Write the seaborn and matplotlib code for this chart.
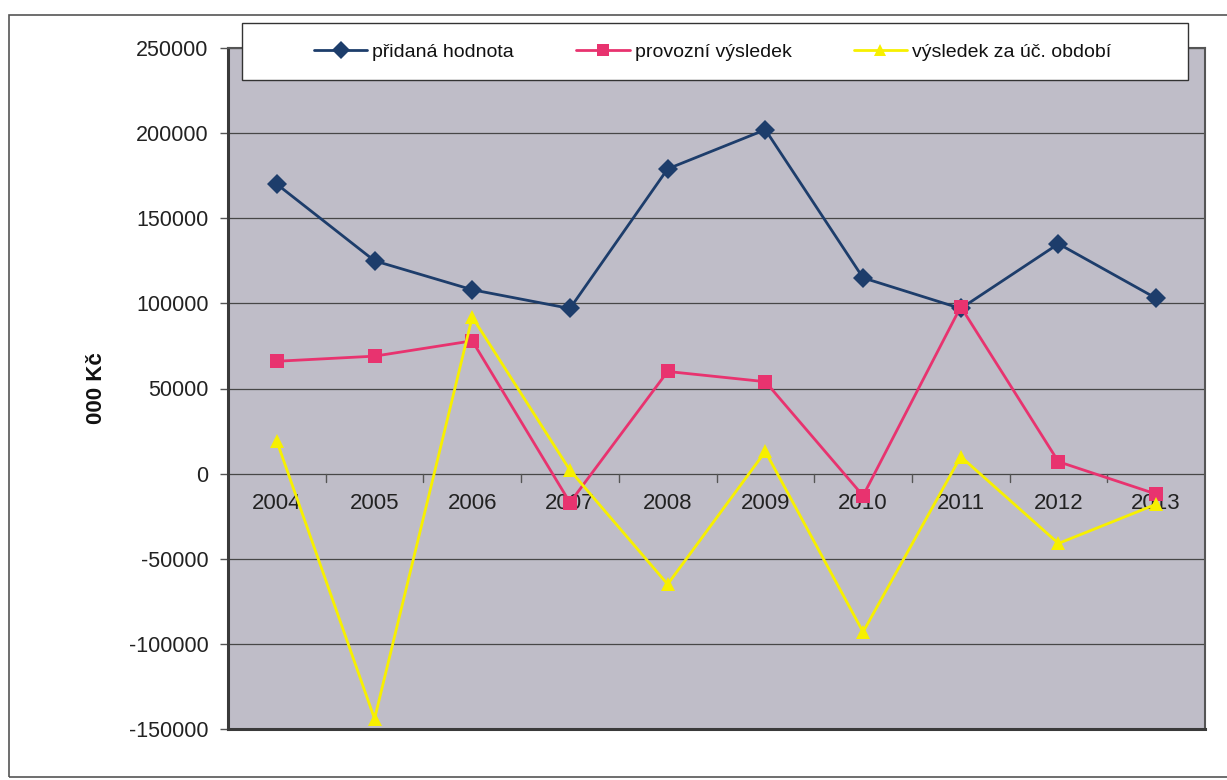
import matplotlib
matplotlib.use("Agg")
import matplotlib.pyplot as plt
from matplotlib.patches import Rectangle
from matplotlib.lines import Line2D
import seaborn as sns
import pandas as pd

years = ["2004", "2005", "2006", "2007", "2008", "2009", "2010", "2011", "2012", "2013"]
pridana_hodnota = [170000, 125000, 108000, 97000, 179000, 202000, 115000, 97000, 135000, 103000]
provozni_vysledek = [66000, 69000, 78000, -17000, 60000, 54000, -13000, 98000, 7000, -12000]
vysledek_za_obdobi = [19000, -144000, 92000, 2000, -65000, 13000, -93000, 10000, -41000, -18000]

series_names = ["přidaná hodnota", "provozní výsledek", "výsledek za úč. období"]
colors = ["#1d3d6b", "#e8336f", "#f7f000"]
markers = ["D", "s", "^"]
yticks = [-150000, -100000, -50000, 0, 50000, 100000, 150000, 200000, 250000]

df = pd.DataFrame({
    "rok": years * 3,
    "pos": list(range(len(years))) * 3,
    "hodnota": pridana_hodnota + provozni_vysledek + vysledek_za_obdobi,
    "serie": [series_names[0]] * 10 + [series_names[1]] * 10 + [series_names[2]] * 10,
})

sns.set_theme(style="white")
plt.rcParams["font.family"] = ["Liberation Sans", "DejaVu Sans"]

W, H = 1227, 780
fig = plt.figure(figsize=(W / 100, H / 100), dpi=100)
ax = fig.add_axes([228 / W, 1 - 729 / H, (1205 - 228) / W, (729 - 48) / H])
ax.set_facecolor("#bfbdc8")

# horizontal gridlines
for yv in yticks:
    ax.axhline(yv, color="#474747", lw=0.9, zorder=1)

sns.lineplot(data=df, x="pos", y="hodnota", hue="serie", style="serie",
             palette=colors, markers=markers, dashes=False, markersize=10,
             markeredgewidth=0, linewidth=2.0, ax=ax, legend=False, zorder=3,
             sort=False)

ax.set_xlim(-0.5, len(years) - 0.5)
ax.set_ylim(-150000, 250000)
ax.set_yticks(yticks)
ax.set_yticklabels([str(v) for v in yticks], fontsize=15.5, color="#222222")
ax.tick_params(axis="y", length=6, width=1, color="#555555", left=True, pad=8)
ax.set_xticks([])
ax.set_xlabel("")
ax.set_ylabel("000 Kč", fontsize=16, fontweight="bold", labelpad=16, color="#111111")

# category ticks and labels along the zero line
for i in range(len(years) + 1):
    ax.plot([i - 0.5, i - 0.5], [0, -5000], color="#555555", lw=1, zorder=2)
for i, yr in enumerate(years):
    ax.text(i, -11500, yr, ha="center", va="top", fontsize=16, color="#222222", zorder=2)

for side in ["left", "bottom"]:
    ax.spines[side].set_color("#3a3a3a")
    ax.spines[side].set_linewidth(2.2)
for side in ["right", "top"]:
    ax.spines[side].set_color("#555555")
    ax.spines[side].set_linewidth(1.5)

# white legend panel across the top
fig.add_artist(Rectangle((242 / W, 1 - 80 / H), (1188 - 242) / W, (80 - 23) / H,
                         transform=fig.transFigure, facecolor="white",
                         edgecolor="#333333", lw=1.0, zorder=5))

handles = [Line2D([0], [0], color=c, marker=m, markersize=9, markeredgewidth=0, lw=2.0)
           for c, m in zip(colors, markers)]
leg = fig.legend(handles, series_names, loc="center left",
                 bbox_to_anchor=(314 / W, 1 - 52 / H), borderaxespad=0, borderpad=0,
                 ncol=3, frameon=False, fontsize=14, handlelength=2.75,
                 handletextpad=0.25, columnspacing=3.2)
leg.set_zorder(10)
for t in leg.get_texts():
    t.set_color("#111111")

# outer chart frame
fig.add_artist(Rectangle((9 / W, 3 / H), 1.0, 762 / H, transform=fig.transFigure,
                         fill=False, edgecolor="#555555", lw=1.2))

fig.savefig("out.png", dpi=100)
